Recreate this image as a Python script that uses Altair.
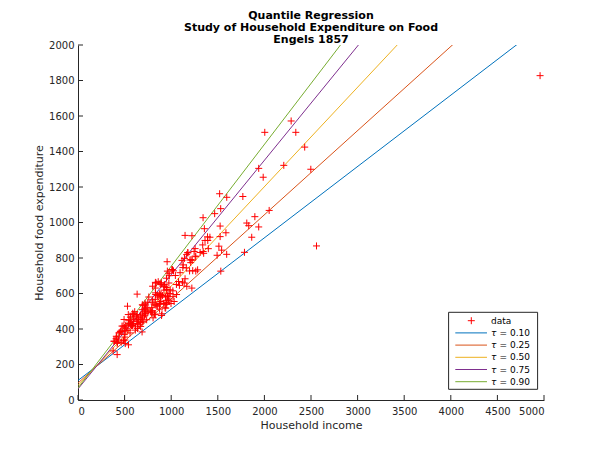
import altair as alt
import pandas as pd

# Household income (x) and food expenditure (y)
income = [
    420.2, 541.4, 901.2, 639.1, 750.9, 945.8, 829.4, 979.2, 1309.9, 1492.4,
    502.8, 616.7, 790.9, 555.9, 713.4, 838.8, 535.1, 596.4, 924.6, 487.8,
    692.6, 997.9, 507.0, 654.2, 933.9, 433.7, 587.6, 896.5, 454.5, 585.0,
    800.8, 502.4, 713.5, 906.0, 880.6, 796.8, 854.9, 1167.4, 523.8, 670.8,
    377.1, 851.5, 1121.1, 625.5, 805.5, 558.6, 884.4, 1257.5, 730.1, 940.9,
    1177.9, 1222.6, 687.7, 953.1, 953.1, 953.1, 939.0, 1283.4, 1511.6, 1342.6,
    511.8, 689.8, 1532.3, 1056.1, 387.3, 387.3, 411.0, 499.8, 832.8, 615.0,
    887.5, 1595.2, 541.2, 1057.7, 800.8, 1245.7, 1201.0, 634.4, 956.2, 1148.6,
    922.4, 627.5, 890.0, 1162.2, 1197.1, 530.8, 1142.2, 1088.0, 484.7, 678.9,
    671.9, 690.5, 860.7, 873.3, 894.5, 1148.6, 926.9, 839.0, 829.5, 1264.0,
    698.8, 920.4, 891.7, 889.7, 1221.5, 544.6, 1031.4, 830.4, 975.0, 1338.0,
    867.6, 725.7, 989.0, 1525.0, 672.2, 923.4, 472.3, 590.8, 831.8, 1139.5,
    507.5, 576.2, 696.6, 650.8, 949.6, 497.1, 570.2, 724.7, 408.3, 638.7,
    1225.8, 715.4, 800.5, 975.6, 608.5, 958.7, 835.9, 1024.8, 1006.4, 726.0,
    494.4, 776.6, 415.4, 581.4, 643.4, 1165.8, 815.6, 1264.2, 1095.4, 447.4,
    1179.0, 975.8, 1017.9, 423.9, 558.8, 943.2, 1348.3, 587.2, 1541.0, 1115.8,
    1044.7, 1389.8, 697.3, 571.3, 598.3, 461.1, 977.1, 884.0, 718.4, 543.9,
    1587.3, 969.7, 420.0, 562.0, 689.6, 1398.5, 820.8, 875.2, 1392.4, 1256.3,
    1362.9, 1209.5, 1125.0, 1014.2, 880.4, 873.7, 951.4, 473.0, 601.0, 714.0,
    829.3, 959.8, 1213.0, 958.9, 1129.4, 539.6, 463.6, 562.6, 736.8, 1415.4,
    636.0, 759.4, 1078.8, 748.6, 987.6, 788.1, 1020.0, 1230.9, 440.5, 743.1,
    4957.8, 2287.0, 2004.0, 2337.0, 2432.4, 1939.0, 2208.0, 1987.0, 2498.0, 1519.6,
    1596.0, 1768.8, 1531.0, 1466.3, 2051.2, 1342.0, 1897.6, 1811.0, 1832.0, 1939.0,
    1525.0, 1356.0, 2559.0, 1786.0, 1864.0,
]
food = [
    255.8, 311.0, 485.7, 403.0, 495.6, 633.8, 630.8, 700.4, 831.0, 815.4,
    338.0, 412.4, 520.0, 452.4, 512.7, 658.8, 392.6, 443.6, 640.1, 333.8,
    467.0, 543.4, 317.7, 424.3, 519.0, 338.0, 419.6, 476.3, 386.4, 423.3,
    503.4, 354.6, 497.3, 588.5, 654.6, 550.7, 528.4, 640.5, 401.3, 436.0,
    276.6, 588.3, 664.2, 444.9, 462.9, 377.8, 553.2, 810.9, 522.7, 517.9,
    831.0, 925.6, 383.5, 621.1, 621.1, 548.6, 580.2, 733.4, 866.7, 836.7,
    418.4, 508.7, 725.9, 651.0, 331.0, 331.0, 359.1, 410.3, 594.6, 393.6,
    580.6, 820.7, 432.8, 594.2, 641.0, 836.8, 788.4, 596.4, 778.9, 927.3,
    619.0, 472.9, 650.3, 744.3, 727.0, 528.5, 797.8, 645.6, 416.5, 456.2,
    479.0, 536.7, 666.5, 598.5, 660.8, 683.0, 650.3, 534.0, 567.3, 726.0,
    444.8, 543.5, 595.1, 555.0, 630.5, 429.0, 555.0, 662.7, 659.1, 873.7,
    580.6, 505.9, 620.6, 920.5, 414.5, 642.6, 416.5, 473.0, 603.6, 659.1,
    391.0, 418.5, 489.5, 453.6, 686.2, 368.4, 430.5, 486.7, 344.9, 430.5,
    787.2, 474.2, 564.4, 714.1, 497.7, 586.7, 535.5, 727.7, 735.0, 535.5,
    453.6, 497.6, 354.6, 420.4, 462.5, 819.1, 541.0, 807.4, 717.2, 378.4,
    828.4, 599.5, 615.0, 324.5, 431.4, 561.5, 826.4, 488.6, 844.2, 786.5,
    701.4, 919.4, 533.5, 420.0, 483.0, 388.6, 558.9, 590.6, 545.0, 446.5,
    942.1, 569.1, 318.9, 424.4, 439.9, 852.6, 484.1, 511.7, 898.7, 852.9,
    898.9, 773.9, 745.9, 734.4, 539.3, 543.3, 538.6, 385.4, 456.2, 478.8,
    480.8, 583.7, 791.3, 726.0, 761.2, 481.4, 325.8, 467.1, 452.2, 917.1,
    481.2, 580.2, 667.7, 550.8, 597.6, 491.9, 582.2, 728.7, 378.4, 513.2,
    1827.3, 1572.0, 1508.0, 1508.0, 1424.8, 1305.0, 1322.0, 1255.0, 1300.0, 1162.0,
    1142.0, 1146.5, 1078.0, 1049.9, 1068.0, 1027.0, 1032.9, 997.0, 982.0, 975.0,
    980.0, 965.0, 868.0, 832.0, 917.0,
]

# Quantile regression fits: tau, intercept, slope
taus = ["0.10", "0.25", "0.50", "0.75", "0.90"]
intercepts = [110.14, 95.48, 81.48, 62.40, 67.35]
slopes = [0.4018, 0.4741, 0.5602, 0.6440, 0.6863]
x_range = [0, 5000]

series_names = ["data"] + [f"τ = {t}" for t in taus]
series_colors = ["#FF0000", "#0072BD", "#D95319", "#EDB120", "#7E2F8E", "#77AC30"]
PLUS = "M-0.636,0H0.636M0,-0.636V0.636"

x_ticks = list(range(0, 5001, 500))
y_ticks = list(range(0, 2001, 200))

FONT = "DejaVu Sans"
AX = "#262626"
W, H = 466, 355

points = pd.DataFrame({"income": income, "food": food, "series": "data"})
lines = pd.DataFrame(
    [
        {"income": x, "food": a + b * x, "series": f"τ = {t}"}
        for t, a, b in zip(taus, intercepts, slopes)
        for x in x_range
    ]
)

xs = alt.Scale(domain=[0, 5000], nice=False, zero=False)
ys = alt.Scale(domain=[0, 2000], nice=False, zero=False)
color_scale = alt.Scale(domain=series_names, range=series_colors)

x_axis = alt.Axis(
    values=x_ticks, ticks=False, tickSize=0, grid=False, format="d",
    labelFont=FONT, labelFontSize=10, labelColor=AX, labelPadding=6,
    domainColor=AX, domainWidth=1,
    title="Household income", titleFont=FONT, titleFontSize=11,
    titleFontWeight="normal", titleColor=AX, titlePadding=3,
)
y_axis = alt.Axis(
    values=y_ticks, ticks=False, tickSize=0, grid=False, format="d",
    labelFont=FONT, labelFontSize=10, labelColor=AX, labelPadding=4,
    domainColor=AX, domainWidth=1,
    title="Household food expenditure", titleFont=FONT, titleFontSize=11,
    titleFontWeight="normal", titleColor=AX, titlePadding=4,
)

line_layer = alt.Chart(lines).mark_line(clip=True, strokeWidth=1).encode(
    x=alt.X("income:Q", scale=xs, axis=x_axis),
    y=alt.Y("food:Q", scale=ys, axis=y_axis),
    color=alt.Color("series:N", scale=color_scale, legend=None),
)

point_layer = alt.Chart(points).mark_point(
    shape=PLUS, filled=False, size=121, strokeWidth=1, opacity=1
).encode(
    x=alt.X("income:Q", scale=xs, axis=x_axis),
    y=alt.Y("food:Q", scale=ys, axis=y_axis),
    color=alt.Color("series:N", scale=color_scale, legend=None),
)

xt = pd.DataFrame({"income": x_ticks})
yt = pd.DataFrame({"food": y_ticks})
xtick_layer = alt.Chart(xt).mark_rule(color=AX, strokeWidth=1).encode(
    x=alt.X("income:Q", scale=xs, axis=x_axis),
    y=alt.value(H), y2=alt.value(H - 5),
)
ytick_layer = alt.Chart(yt).mark_rule(color=AX, strokeWidth=1).encode(
    y=alt.Y("food:Q", scale=ys, axis=y_axis),
    x=alt.value(0), x2=alt.value(5),
)

# ---- legend (MATLAB style box in the lower right) ----
leg = pd.DataFrame({
    "series": series_names,
    "idx": list(range(len(series_names))),
    "sym": ["data"] + ["τ"] * len(taus),
    "rest": [""] + [f"= {t}" for t in taus],
})
LEG_Y0, LEG_DY = 275.7, 12.2
leg_base = alt.Chart(leg).transform_calculate(ly=f"{LEG_Y0} + {LEG_DY} * datum.idx")

box_layer = alt.Chart(pd.DataFrame({"k": [0]})).mark_rect(
    fill="white", stroke=AX, strokeWidth=1
).encode(
    x=alt.value(370.6), x2=alt.value(459.6),
    y=alt.value(267.3), y2=alt.value(344.3),
)
leg_lines = leg_base.transform_filter("datum.idx > 0").mark_rule(strokeWidth=1).encode(
    x=alt.value(377.3), x2=alt.value(409.0),
    y=alt.Y("ly:Q", scale=None, axis=None),
    color=alt.Color("series:N", scale=color_scale, legend=None),
)
leg_plus = leg_base.transform_filter("datum.idx == 0").mark_point(
    shape=PLUS, filled=False, size=121, strokeWidth=1, opacity=1
).encode(
    x=alt.value(393.3),
    y=alt.Y("ly:Q", scale=None, axis=None),
    color=alt.Color("series:N", scale=color_scale, legend=None),
)
leg_sym_text = leg_base.transform_filter("datum.idx == 0").mark_text(
    align="left", baseline="middle", font=FONT, fontSize=9, color="black"
).encode(
    x=alt.value(413.0), y=alt.Y("ly:Q", scale=None, axis=None), text="sym:N",
)
leg_tau_text = leg_base.transform_filter("datum.idx > 0").mark_text(
    align="left", baseline="middle", font=FONT, fontSize=9, color="black",
    fontStyle="italic",
).encode(
    x=alt.value(413.0), y=alt.Y("ly:Q", scale=None, axis=None), text="sym:N",
)
leg_rest_text = leg_base.transform_filter("datum.idx > 0").mark_text(
    align="left", baseline="middle", font=FONT, fontSize=9, color="black"
).encode(
    x=alt.value(421.6), y=alt.Y("ly:Q", scale=None, axis=None), text="rest:N",
)

chart = alt.layer(
    line_layer, point_layer, xtick_layer, ytick_layer,
    box_layer, leg_lines, leg_plus, leg_sym_text, leg_tau_text, leg_rest_text,
).properties(
    width=W, height=H,
    title=alt.TitleParams(
        text=["Quantile Regression", "Study of Household Expenditure on Food", "Engels 1857"],
        font=FONT, fontSize=11, fontWeight="bold", color="black",
        anchor="middle", offset=2, lineHeight=12, dy=7,
    ),
    autosize=alt.AutoSizeParams(type="none"),
    padding={"left": 70, "top": 37, "right": 30, "bottom": 40},
    background="white",
).configure_view(stroke="transparent")

chart.save("out.html", embed_options={"renderer": "svg", "actions": False})
